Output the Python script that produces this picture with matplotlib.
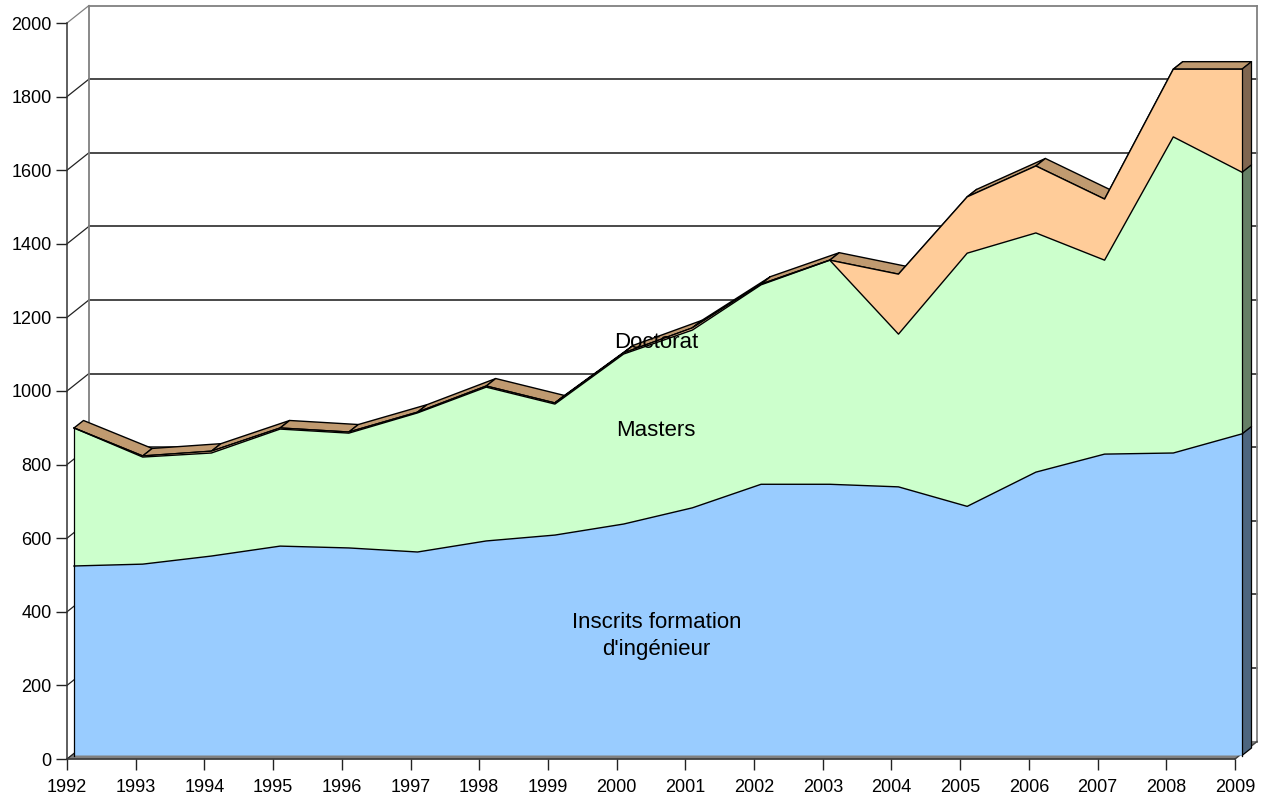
import matplotlib
matplotlib.use("Agg")
import matplotlib.pyplot as plt
from matplotlib.transforms import Affine2D
from matplotlib.patches import Polygon
import numpy as np

plt.rcParams['font.family'] = ['Liberation Sans', 'DejaVu Sans']

years = list(range(1992, 2010))
ingenieur = [515, 520, 542, 569, 564, 553, 583, 599, 629, 673, 737, 737, 730, 677, 770, 819, 822, 874]
masters = [375, 291, 280, 318, 312, 378, 418, 356, 462, 483, 542, 609, 415, 688, 650, 527, 859, 711]
doctorat = [0, 3, 5, 3, 3, 2, 3, 3, 3, 6, 2, 0, 163, 153, 182, 166, 184, 280]
y_ticks = list(range(0, 2001, 200))

W, H = 1262, 797
fig = plt.figure(figsize=(W / 100, H / 100), dpi=100)
ax = fig.add_axes([67 / W, 1 - 759 / H, (1235 - 67) / W, (759 - 23) / H])
ax.set_xlim(years[0], years[-1])
ax.set_ylim(0, 2000)
ax.patch.set_visible(False)
for s in ('top', 'right'):
    ax.spines[s].set_visible(False)
for s in ('left', 'bottom'):
    ax.spines[s].set_color('#333333')
    ax.spines[s].set_linewidth(1.1)
    ax.spines[s].set_zorder(6)
ax.set_xticks(years)
ax.set_yticks(y_ticks)
ax.tick_params(axis='x', length=8, width=1, color='#222222', labelsize=13, pad=6.5)
ax.tick_params(axis='y', length=8, width=1, color='#222222', labelsize=13, pad=3)
for t in (ax.xaxis.get_major_ticks()[0], ax.xaxis.get_major_ticks()[-1]):
    t.tick1line.set_color('#808080')


def shift(dx, dy):
    return ax.transData + Affine2D().translate(dx, dy)


WALL = (22, 17.5)     # depth of the whole floor
FRONT = (7, 3.5)      # front face of the areas
BACK = (16.5, 11)     # rear face of the areas
wall_t = shift(*WALL)
front_t = shift(*FRONT)
back_t = shift(*BACK)
fig_inv = fig.transFigure.inverted()


def to_fig(trans, pts):
    return fig_inv.transform(trans.transform(pts))


xa, xb = years[0], years[-1]

# floor
corners = np.array([[xa, 0], [xb, 0]], dtype=float)
ax.add_patch(Polygon(np.vstack([to_fig(ax.transData, corners), to_fig(wall_t, corners[::-1])]),
                     closed=True, transform=fig.transFigure, facecolor='#808080',
                     edgecolor='#808080', lw=0.8, zorder=1, clip_on=False))

# back wall and gridlines
for v in y_ticks:
    c = '#808080' if v in (0, 2000) else '#3a3a3a'
    ax.plot([xa, xb], [v, v], color=c, lw=1.3, transform=wall_t, clip_on=False, zorder=1)
    q = np.vstack([to_fig(ax.transData, [[xa, v]]), to_fig(wall_t, [[xa, v]])])
    ax.plot(q[:, 0], q[:, 1], color='#808080' if v == 2000 else '#222222', lw=0.9,
            transform=fig.transFigure, clip_on=False, zorder=1)
for x in (xa, xb):
    ax.plot([x, x], [0, 2000], color='#808080', lw=1.3, transform=wall_t, clip_on=False, zorder=1)
# right floor edge
p = np.vstack([to_fig(ax.transData, [[xb, 0]]), to_fig(wall_t, [[xb, 0]])])
ax.plot(p[:, 0], p[:, 1], color='#444444', lw=1.0, transform=fig.transFigure, clip_on=False, zorder=2)

base = np.zeros(len(years))
layers = [
    (ingenieur, '#99CCFF', '#4D6680'),
    (masters, '#CCFFCC', '#668066'),
    (doctorat, '#FFCC99', '#806650'),
]
xs = np.array(years, dtype=float)

# tops of the uppermost series, behind the front faces
top_total = np.sum([ingenieur, masters, doctorat], axis=0, dtype=float)
for i in range(len(xs) - 1):
    a = np.array([[xs[i], top_total[i]], [xs[i + 1], top_total[i + 1]]])
    poly = np.vstack([to_fig(front_t, a), to_fig(back_t, a[::-1])])
    ax.add_patch(Polygon(poly, closed=True, transform=fig.transFigure, facecolor='#C09A70',
                         edgecolor='black', lw=1.0, joinstyle='round', zorder=3, clip_on=False))

for vals, col, side in layers:
    top = base + np.array(vals, dtype=float)
    # right side face
    a = np.array([[xs[-1], base[-1]], [xs[-1], top[-1]]])
    poly = np.vstack([to_fig(front_t, a), to_fig(back_t, a[::-1])])
    ax.add_patch(Polygon(poly, closed=True, transform=fig.transFigure, facecolor=side,
                         edgecolor='black', lw=0.9, zorder=3.5, clip_on=False))
    # front face, no outline along the bottom
    ax.fill_between(xs, base, top, transform=front_t, facecolor=col, edgecolor='none',
                    zorder=4, clip_on=False)
    ax.plot(xs, top, color='black', lw=1.0, transform=front_t, zorder=4.5, clip_on=False)
    ax.plot([xs[0], xs[0]], [base[0], top[0]], color='black', lw=0.9, transform=front_t,
            zorder=4.5, clip_on=False)
    ax.plot([xs[-1], xs[-1]], [base[-1], top[-1]], color='black', lw=0.9, transform=front_t,
            zorder=4.5, clip_on=False)
    base = top

ax.text(2000.57, 1133, 'Doctorat', fontsize=16, ha='center', va='center', zorder=7)
ax.text(2000.57, 894, 'Masters', fontsize=16, ha='center', va='center', zorder=7)
ax.text(2000.58, 335, "Inscrits formation\nd'ingénieur", fontsize=16, ha='center', va='center',
        linespacing=1.38, zorder=7)

fig.savefig('out.png', dpi=100)
